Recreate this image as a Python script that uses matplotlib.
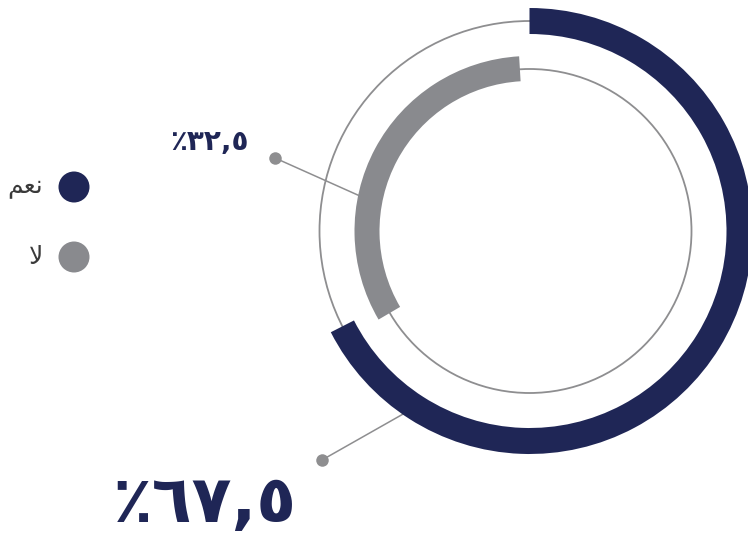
import matplotlib.pyplot as plt
from matplotlib.patches import Wedge, Circle
import numpy as np

# data
labels = ["نعم", "لا"]          # yes / no
values = [67.5, 32.5]
colors = ["#1f2656", "#898a8e"]

# matplotlib has no arabic shaping, so map labels to presentation forms (visual order)
shaped = {"نعم": "\ufee2\ufecc\ufee7", "لا": "\ufefb"}
arabic_digits = str.maketrans("0123456789", "٠١٢٣٤٥٦٧٨٩")


def pct_text(v):
    return "٪" + f"{v:.1f}".replace(".", ",").translate(arabic_digits)


W, H = 748, 542
fig = plt.figure(figsize=(W / 100, H / 100), dpi=100)
ax = fig.add_axes([0, 0, 1, 1])
ax.set_xlim(0, W)
ax.set_ylim(0, H)
ax.set_aspect("equal")
ax.axis("off")

cx, cy = 529.5, H - 231
line_grey = "#8e8e90"

# guide circles
r_outer, r_inner = 210, 162
band = 26
ax.add_patch(Circle((cx, cy), r_outer, fill=False, ec=line_grey, lw=1.3, zorder=1))
ax.add_patch(Circle((cx, cy), r_inner, fill=False, ec=line_grey, lw=1.3, zorder=1))

# outer arc (yes) goes clockwise from top, inner arc (no) counter-clockwise
sweep_yes = values[0] / 100 * 360
ax.add_patch(Wedge((cx, cy), r_outer + band / 2, 90 - sweep_yes, 90,
                   width=band, fc=colors[0], ec="none", zorder=3))
start_no = 93.4
sweep_no = values[1] / 100 * 360
ax.add_patch(Wedge((cx, cy), r_inner + band / 2, start_no, start_no + sweep_no,
                   width=band - 1, fc=colors[1], ec="none", zorder=3))


def leader(angle, r, dot):
    a = np.deg2rad(angle)
    x0, y0 = cx + r * np.cos(a), cy + r * np.sin(a)
    ax.plot([dot[0], x0], [dot[1], y0], color=line_grey, lw=1.1, zorder=2)
    ax.plot(dot[0], dot[1], "o", ms=9, color=line_grey, mec="none", zorder=4)


leader(235.3, r_outer + band / 2, (322, H - 460))
leader(168.2, r_inner + band / 2, (275, H - 158))

# percentage labels
ax.text(297, H - 504, pct_text(values[0]), ha="right", va="center",
        fontsize=47, fontweight="bold", color=colors[0], family="DejaVu Sans")
ax.text(249, H - 142, pct_text(values[1]), ha="right", va="center",
        fontsize=20, fontweight="bold", color=colors[0], family="DejaVu Sans")

# legend
for i, (lab, col) in enumerate(zip(labels, colors)):
    y = H - (187 + i * 70)
    ax.add_patch(Circle((74, y), 15.5, fc=col, ec="none"))
    ax.text(43, y, shaped[lab], ha="right", va="center", fontsize=18,
            color="#3a3a3a", family="DejaVu Sans")

fig.savefig("out.png", dpi=100)
